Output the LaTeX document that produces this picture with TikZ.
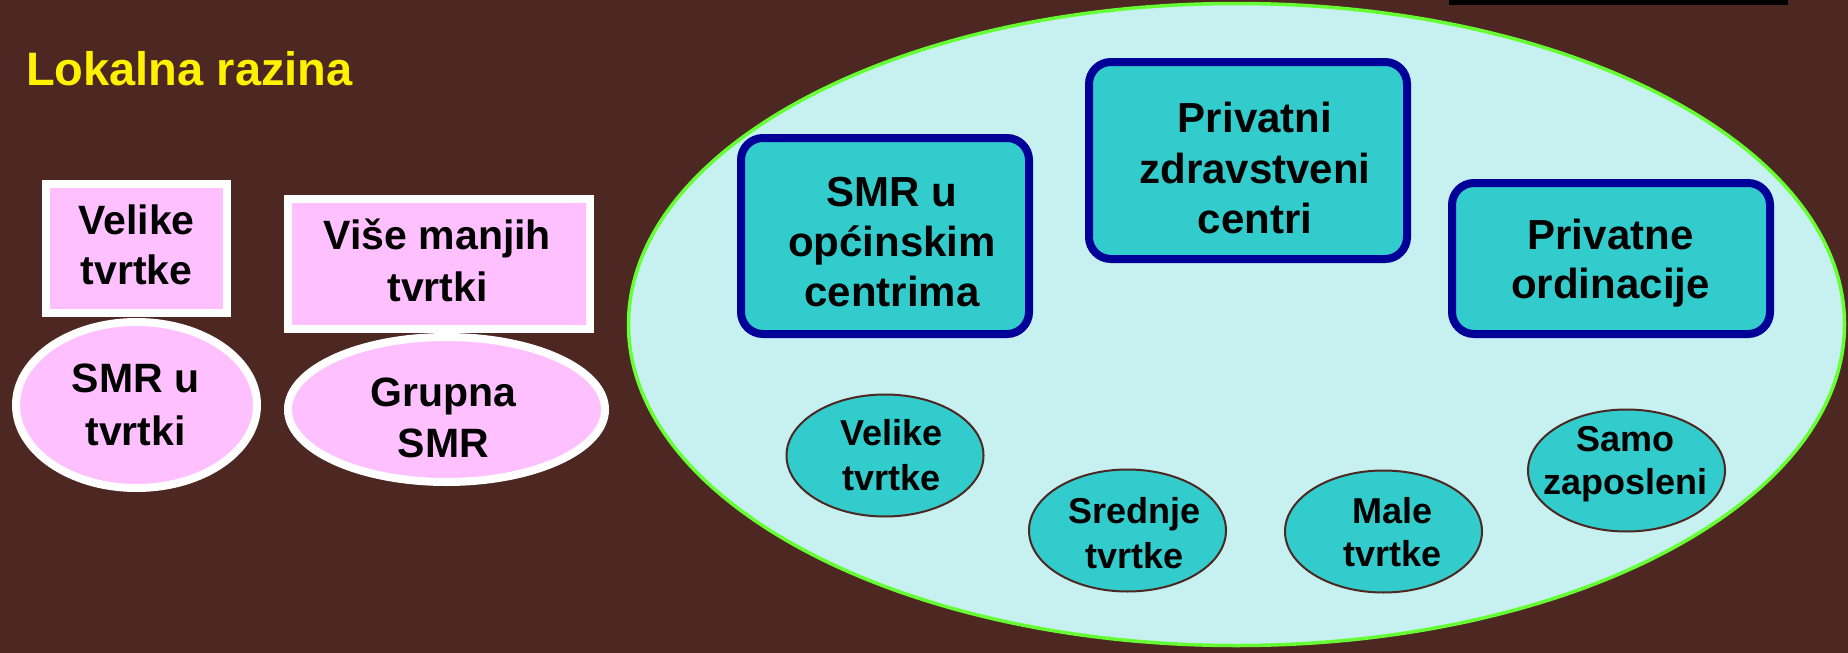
\documentclass[tikz,border=0pt]{standalone}
\usepackage{fontspec}
\setmainfont{Liberation Sans}
\usetikzlibrary{shapes.geometric}
\definecolor{bgbrown}{HTML}{4D2721}
\definecolor{pinkfill}{HTML}{FFC0FF}
\definecolor{lightcyan}{HTML}{C6F1F0}
\definecolor{tealfill}{HTML}{33CCCC}
\definecolor{navyline}{HTML}{000099}
\definecolor{limeline}{HTML}{66FF33}
\begin{document}
\begin{tikzpicture}[x=1pt,y=-1pt,
  pinkbox/.style={draw=white, line width=8pt, fill=pinkfill, rectangle, inner sep=0pt},
  pinkell/.style={draw=white, line width=8pt, fill=pinkfill, ellipse, inner sep=0pt},
  bluebox/.style={draw=navyline, line width=8pt, fill=tealfill, rectangle, rounded corners=22pt, inner sep=0pt},
  smallell/.style={draw=bgbrown, line width=2pt, fill=tealfill, ellipse, inner sep=0pt, minimum width=197pt, minimum height=122pt},
  bigtxt/.style={font=\fontsize{41}{52}\selectfont\bfseries, align=center, inner sep=0pt, anchor=north, text=black},
  bluetxt/.style={font=\fontsize{42}{50}\selectfont\bfseries, align=center, inner sep=0pt, anchor=north, text=black},
  smalltxt/.style={font=\fontsize{36}{44}\selectfont\bfseries, align=center, inner sep=0pt, anchor=north, text=black}
]
\useasboundingbox (0,0) rectangle (1848,653);
\fill[bgbrown] (0,0) rectangle (1848,653);
\fill[black] (1449,0) rectangle (1788,5);

% title
\node[font=\fontsize{47}{56}\selectfont\bfseries, text=yellow, inner sep=0pt, anchor=base west] (title) at (26,85) {Lokalna razina};

% left side
\node[pinkbox, minimum width=181.5pt, minimum height=129pt] (b1) at (136.25,248.5) {};
\node[bigtxt, font=\fontsize{41}{50}\selectfont\bfseries] (b1t) at (136.5,204.6) {Velike\\tvrtke};
\node[pinkell, minimum width=241pt, minimum height=166pt] (e1) at (136.5,405) {};
\node[bigtxt, font=\fontsize{41}{53}\selectfont\bfseries] (e1t) at (135.5,363.6) {SMR u\\tvrtki};
\node[pinkbox, minimum width=302.5pt, minimum height=130pt] (b2) at (438.75,264) {};
\node[bigtxt] (b2t) at (437.5,218.6) {Više manjih\\tvrtki};
\node[pinkell, minimum width=317pt, minimum height=145pt] (e2) at (446.5,409.5) {};
\node[bigtxt, font=\fontsize{41}{51}\selectfont\bfseries] (e2t) at (443.5,377.6) {Grupna\\SMR};

% big ellipse
\node[draw=limeline, line width=3.5pt, fill=lightcyan, ellipse, inner sep=0pt, minimum width=1216pt, minimum height=642pt] (big) at (1236.5,324.5) {};

% blue boxes
\node[bluebox, minimum width=288pt, minimum height=196pt] (p1) at (885,236) {};
\node[bluetxt] (p1t) at (892,177) {SMR u\\općinskim\\centrima};
\node[bluebox, minimum width=318pt, minimum height=197pt] (p2) at (1248,160.5) {};
\node[bluetxt, font=\fontsize{42}{50.5}\selectfont\bfseries] (p2t) at (1255,102) {Privatni\\zdravstveni\\centri};
\node[bluebox, minimum width=318pt, minimum height=151pt] (p3) at (1611,258.5) {};
\node[bluetxt, font=\fontsize{42}{49}\selectfont\bfseries] (p3t) at (1610.5,219) {Privatne\\ordinacije};

% small ellipses
\node[smallell] (s1) at (885,455.5) {};
\node[smalltxt, font=\fontsize{36}{45}\selectfont\bfseries] (s1t) at (891.5,419.2) {Velike\\tvrtke};
\node[smallell] (s2) at (1127.5,530.5) {};
\node[smalltxt, font=\fontsize{36}{45}\selectfont\bfseries] (s2t) at (1134.5,497.2) {Srednje\\tvrtke};
\node[smallell] (s3) at (1383.5,531.5) {};
\node[smalltxt, font=\fontsize{36}{43}\selectfont\bfseries] (s3t) at (1392.5,497.2) {Male\\tvrtke};
\node[smallell] (s4) at (1626.5,470.5) {};
\node[smalltxt, font=\fontsize{36}{43}\selectfont\bfseries] (s4t) at (1625.5,426.2) {Samo\\zaposleni};
\end{tikzpicture}
\end{document}
